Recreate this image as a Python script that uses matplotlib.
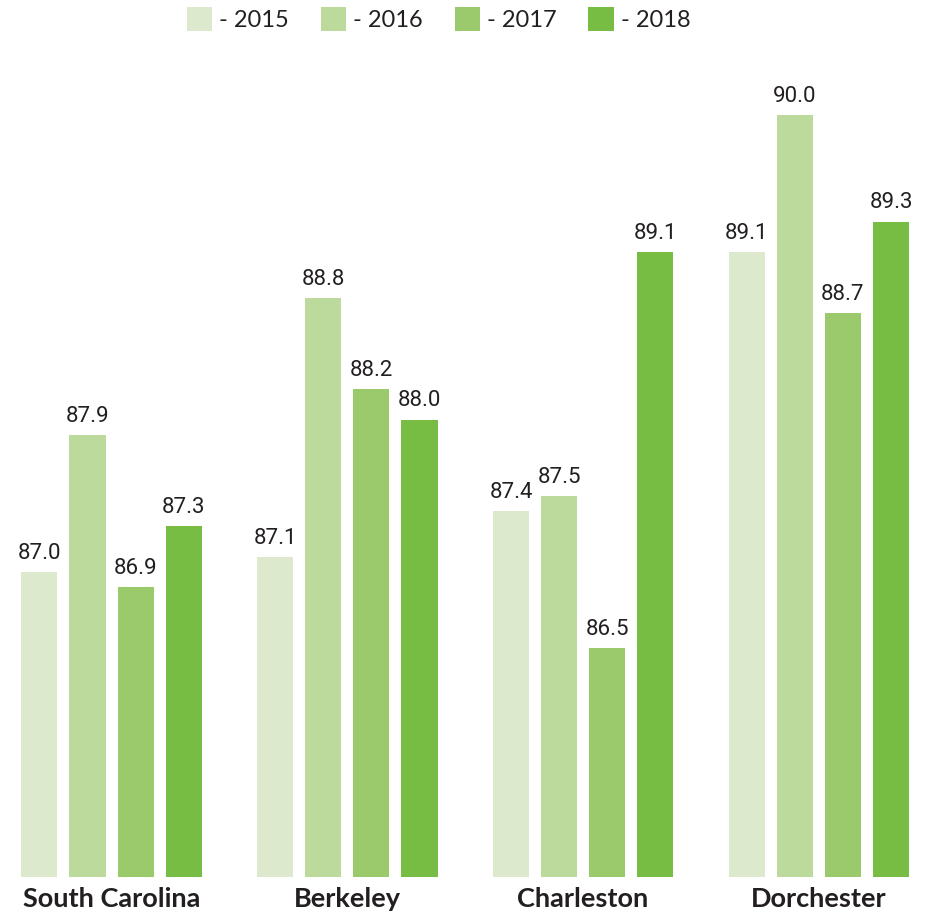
#!/usr/bin/env python3

import numpy as np
from matplotlib import pyplot as plt
from matplotlib.patches import Patch

# * Data

CATEGORIES = ["South Carolina", "Berkeley", "Charleston", "Dorchester"]
YEARS = ["2015", "2016", "2017", "2018"]
VALS_2015 = [87.0, 87.1, 87.4, 89.1]
VALS_2016 = [87.9, 88.8, 87.5, 90.0]
VALS_2017 = [86.9, 88.2, 86.5, 88.7]
VALS_2018 = [87.3, 88.0, 89.1, 89.3]

# * Style

COLORS = ["#dde9cc", "#bcda9b", "#9aca6c", "#78bd43"]
TEXT_COLOR = "#231f20"
BAR_WIDTH = 0.153
BAR_STEP = 0.204
Y_MIN = 85.0
Y_MAX = 90.46

# * Plot

fig = plt.figure(figsize=(9.25, 9.15), dpi=100)
ax = fig.add_axes([0, 0.0415, 1, 0.9095])

x = np.arange(len(CATEGORIES))
series = [VALS_2015, VALS_2016, VALS_2017, VALS_2018]
for i, vals in enumerate(series):
    offs = (i - 1.5) * BAR_STEP
    heights = np.array(vals) - Y_MIN
    bars = ax.bar(x + offs, heights, BAR_WIDTH, bottom=Y_MIN,
                  color=COLORS[i], linewidth=0)
    for b, v in zip(bars, vals):
        ax.annotate("{:.1f}".format(v), (b.get_x() + b.get_width() / 2, v),
                    xytext=(0, 6), textcoords="offset points",
                    ha="center", va="bottom", fontsize=16,
                    family=["Roboto", "DejaVu Sans"],
                    color=TEXT_COLOR)

ax.set_xlim(-0.473, 3.45)
ax.set_ylim(Y_MIN, Y_MAX)
for s in ax.spines.values():
    s.set_visible(False)
ax.set_yticks([])
ax.set_xticks(x)
ax.set_xticklabels(CATEGORIES, fontsize=19.5, fontweight="bold",
                   family=["Lato", "DejaVu Sans"], color=TEXT_COLOR)
ax.tick_params(axis="x", length=0, pad=7)

handles = [Patch(facecolor=c, edgecolor="none") for c in COLORS]
labels = ["- " + y for y in YEARS]
leg = fig.legend(handles, labels, loc="upper center", ncol=4,
                 bbox_to_anchor=(0.474, 1.016), frameon=False,
                 handlelength=1.06, handleheight=1.23, handletextpad=0.3,
                 columnspacing=1.36,
                 prop={"family": ["Lato", "DejaVu Sans"], "size": 17})
for t in leg.get_texts():
    t.set_color(TEXT_COLOR)

fig.savefig("out.png", dpi=100)
